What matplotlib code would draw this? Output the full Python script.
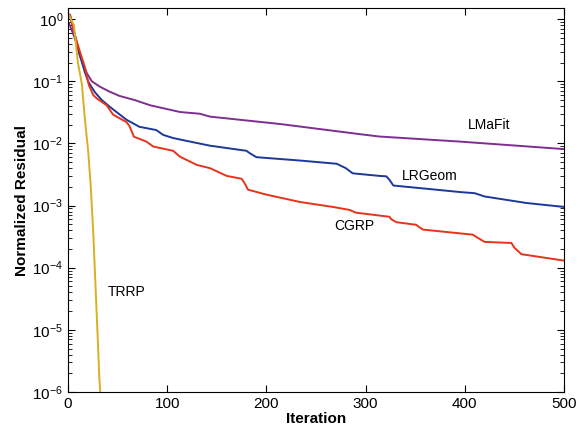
import numpy as np
import matplotlib
matplotlib.use("Agg")
import matplotlib.pyplot as plt
from matplotlib.ticker import LogLocator, NullFormatter

plt.rcParams['font.family'] = ['Liberation Sans', 'DejaVu Sans']

# LMaFit (purple)
lmafit_it = [0, 1, 7, 12, 19, 24, 32, 42, 52, 67, 83, 113, 133, 143, 214, 294,
             314, 395, 500]
lmafit_res = [0.8, 0.86, 0.49, 0.26, 0.135, 0.1, 0.082, 0.068, 0.058, 0.05, 0.041,
              0.032, 0.030, 0.027, 0.0205, 0.0141, 0.0129, 0.0107, 0.0081]

# LRGeom (blue)
lrgeom_it = [0, 1, 2, 7, 12, 17, 20.5, 27, 34, 42, 59, 72, 89, 96, 106, 123,
             143, 180, 183, 190, 234, 271, 280, 287, 314, 321, 324, 328, 362,
             395, 410, 420, 462, 500]
lrgeom_res = [1.05, 1.16, 1.18, 0.55, 0.26, 0.14, 0.098, 0.067, 0.05, 0.039,
              0.024, 0.0185, 0.0164, 0.0137, 0.0122, 0.0107, 0.0092, 0.0076,
              0.0070, 0.0060, 0.0053, 0.0047, 0.0040, 0.0033, 0.0030, 0.00295,
              0.0026, 0.0021, 0.00186, 0.00165, 0.00158, 0.00140, 0.0011, 0.00095]

# CGRP (red)
cgrp_it = [0, 1, 2, 7, 12, 17, 21, 25.5, 29, 39, 45.5, 59, 62, 66.5, 79, 86,
           106, 113, 130, 143, 160, 175, 178, 181.5, 200, 234, 267, 284, 290,
           314, 324, 326, 331, 351, 354, 358, 408, 412, 420, 447, 450, 457, 500]
cgrp_res = [1.05, 1.16, 1.18, 0.55, 0.30, 0.17, 0.087, 0.06, 0.053, 0.041,
            0.029, 0.022, 0.019, 0.0128, 0.0107, 0.0089, 0.0076, 0.0061, 0.0045,
            0.0040, 0.0030, 0.0027, 0.0023, 0.0018, 0.0015, 0.00114, 0.00095,
            0.00085, 0.00077, 0.00069, 0.00066, 0.00060, 0.00054, 0.00049,
            0.00045, 0.00041, 0.00034, 0.00031, 0.00026, 0.00025, 0.00021,
            0.000165, 0.00013]

# TRRP (gold)
trrp_it = [0, 1, 6, 10, 14, 17, 20.5, 23, 25.5, 28, 30, 31.6, 32.5]
trrp_res = [1.1, 1.16, 0.8, 0.2, 0.09, 0.025, 0.0071, 0.002, 0.00036,
            4.1e-5, 7.4e-6, 1.7e-6, 1e-6]

fig = plt.figure(figsize=(5.87, 4.30), dpi=100)
ax = fig.add_axes([0.1158, 0.0884, 0.845, 0.8926])

ax.semilogy(lmafit_it, lmafit_res, color='#7E2F8E', lw=1.4)
ax.semilogy(lrgeom_it, lrgeom_res, color='#1C399A', lw=1.4)
ax.semilogy(cgrp_it, cgrp_res, color='#E8331B', lw=1.4)
ax.semilogy(trrp_it, trrp_res, color='#D9B020', lw=1.4)

ax.text(425, 10**-1.70, 'LMaFit', fontsize=10, ha='center', va='center')
ax.text(365, 10**-2.52, 'LRGeom', fontsize=10, ha='center', va='center')
ax.text(289, 10**-3.33, 'CGRP', fontsize=10, ha='center', va='center')
ax.text(59, 10**-4.39, 'TRRP', fontsize=10, ha='center', va='center')

ax.set_xlim(0, 500)
ax.set_ylim(1e-6, 1.5)
ax.set_xticks([0, 100, 200, 300, 400, 500])
ax.yaxis.set_major_locator(LogLocator(base=10, numticks=10))
ax.yaxis.set_minor_locator(LogLocator(base=10, subs=np.arange(2, 10), numticks=20))
ax.yaxis.set_minor_formatter(NullFormatter())
ax.tick_params(which='both', direction='in', top=True, right=True, labelsize=11)
ax.tick_params(which='major', length=5)
ax.tick_params(which='minor', length=3)

ax.set_xlabel('Iteration', fontsize=11, fontweight='bold', labelpad=1)
ax.set_ylabel('Normalized Residual', fontsize=11, fontweight='bold', labelpad=2)

fig.savefig('out.png', dpi=100)
